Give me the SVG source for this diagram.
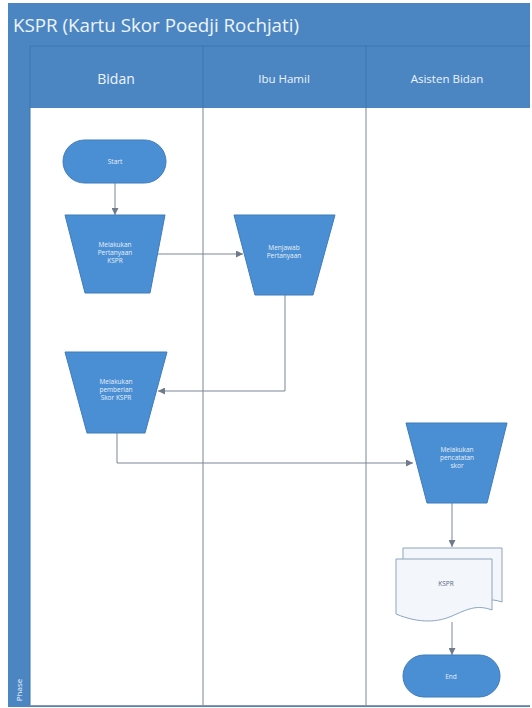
<svg xmlns="http://www.w3.org/2000/svg" width="532" height="708" viewBox="0 0 532 708">
  <defs>
    <style>
      .band { fill: #4b86c3; }
      .sep { stroke: #3f74ad; stroke-width: 1; }
      .lane { stroke: #a7aebb; stroke-width: 1.5; fill: none; }
      .shape { fill: #4a8ed3; stroke: #3f7cbc; stroke-width: 1; }
      .doc { fill: #f3f6fb; stroke: #8ea4bf; stroke-width: 1; }
      .conn { fill: none; stroke: #7c8796; stroke-width: 1; }
      .title { font-family: "Open Sans", "Liberation Sans", sans-serif; font-size: 18px; fill: #eef4fb; }
      .hdr { font-family: "Open Sans", "Liberation Sans", sans-serif; fill: #eef4fb; text-anchor: middle; }
      .lbl { font-family: "Open Sans", "Liberation Sans", sans-serif; font-size: 6.5px; fill: #e8f0fa; text-anchor: middle; }
      .dlbl { font-family: "Open Sans", "Liberation Sans", sans-serif; font-size: 6.5px; fill: #5a6b80; text-anchor: middle; }
    </style>
    <marker id="arr" viewBox="0 0 10 10" refX="10" refY="5" markerWidth="7" markerHeight="7" orient="auto" markerUnits="userSpaceOnUse">
      <path d="M0,0 L10,5 L0,10 z" fill="#6f7b8a"/>
    </marker>
  </defs>

  <g id="pool">
    <rect x="8" y="3" width="522" height="704" class="band"/>
    <rect x="30" y="108" width="500" height="597" fill="#ffffff"/>
    <line x1="30" y1="46" x2="530" y2="46" class="sep"/>
    <line x1="30" y1="46" x2="30" y2="705" class="sep"/>
    <line x1="203" y1="46" x2="203" y2="108" class="sep"/>
    <line x1="366" y1="46" x2="366" y2="108" class="sep"/>
    <line x1="203" y1="108" x2="203" y2="705" class="lane"/>
    <line x1="366" y1="108" x2="366" y2="705" class="lane"/>
    <line x1="30" y1="705.5" x2="530" y2="705.5" stroke="#8d96a3" stroke-width="1"/>
    <text x="13" y="32" class="title" textLength="286" lengthAdjust="spacingAndGlyphs">KSPR (Kartu Skor Poedji Rochjati)</text>
    <text x="116" y="84" class="hdr" font-size="14">Bidan</text>
    <text x="284" y="83" class="hdr" font-size="11.5">Ibu Hamil</text>
    <text x="447" y="83" class="hdr" font-size="11.5">Asisten Bidan</text>
    <text x="0" y="0" class="hdr" font-size="8" transform="translate(22,690) rotate(-90)">Phase</text>
  </g>

  <g id="connectors">
    <line x1="115" y1="183" x2="115" y2="215" class="conn" marker-end="url(#arr)"/>
    <line x1="158" y1="254" x2="243" y2="254" class="conn" marker-end="url(#arr)"/>
    <polyline points="285,295 285,391 158,391" class="conn" marker-end="url(#arr)"/>
    <polyline points="117,433 117,463 413,463" class="conn" marker-end="url(#arr)"/>
    <line x1="452" y1="503" x2="452" y2="547" class="conn" marker-end="url(#arr)"/>
    <line x1="452" y1="622" x2="452" y2="655" class="conn" marker-end="url(#arr)"/>
  </g>

  <g id="start">
    <rect x="63" y="140" width="103" height="43" rx="21.5" class="shape"/>
    <text x="115" y="164" class="lbl" font-size="7.5">Start</text>
  </g>

  <g id="melakukan-pertanyaan">
    <polygon points="65,215 165,215 150,293 85,293" class="shape"/>
    <text x="115" y="247" class="lbl">Melakukan</text>
    <text x="115" y="255" class="lbl">Pertanyaan</text>
    <text x="115" y="263" class="lbl">KSPR</text>
  </g>

  <g id="menjawab-pertanyaan">
    <polygon points="234,215 335,215 313,295 255,295" class="shape"/>
    <text x="284" y="250" class="lbl">Menjawab</text>
    <text x="284" y="258" class="lbl">Pertanyaan</text>
  </g>

  <g id="pemberian-skor">
    <polygon points="65,352 167,352 145,433 87,433" class="shape"/>
    <text x="116" y="384" class="lbl">Melakukan</text>
    <text x="116" y="392" class="lbl">pemberian</text>
    <text x="116" y="400" class="lbl">Skor KSPR</text>
  </g>

  <g id="pencatatan-skor">
    <polygon points="406,423 507,423 487,503 427,503" class="shape"/>
    <text x="457" y="452" class="lbl">Melakukan</text>
    <text x="457" y="460" class="lbl">pencatatan</text>
    <text x="457" y="468" class="lbl">skor</text>
  </g>

  <g id="kspr-doc">
    <path d="M403,548 H502 V602 C490,598 484,600 470,606 L403,606 Z" class="doc"/>
    <path d="M396,559 H492 V610 C476,604 466,610 452,616 C438,622 420,624 396,614 Z" class="doc"/>
    <text x="446" y="586" class="dlbl">KSPR</text>
  </g>

  <g id="end">
    <rect x="403" y="655" width="97" height="42" rx="21" class="shape"/>
    <text x="451" y="679" class="lbl" font-size="7.5">End</text>
  </g>
</svg>
